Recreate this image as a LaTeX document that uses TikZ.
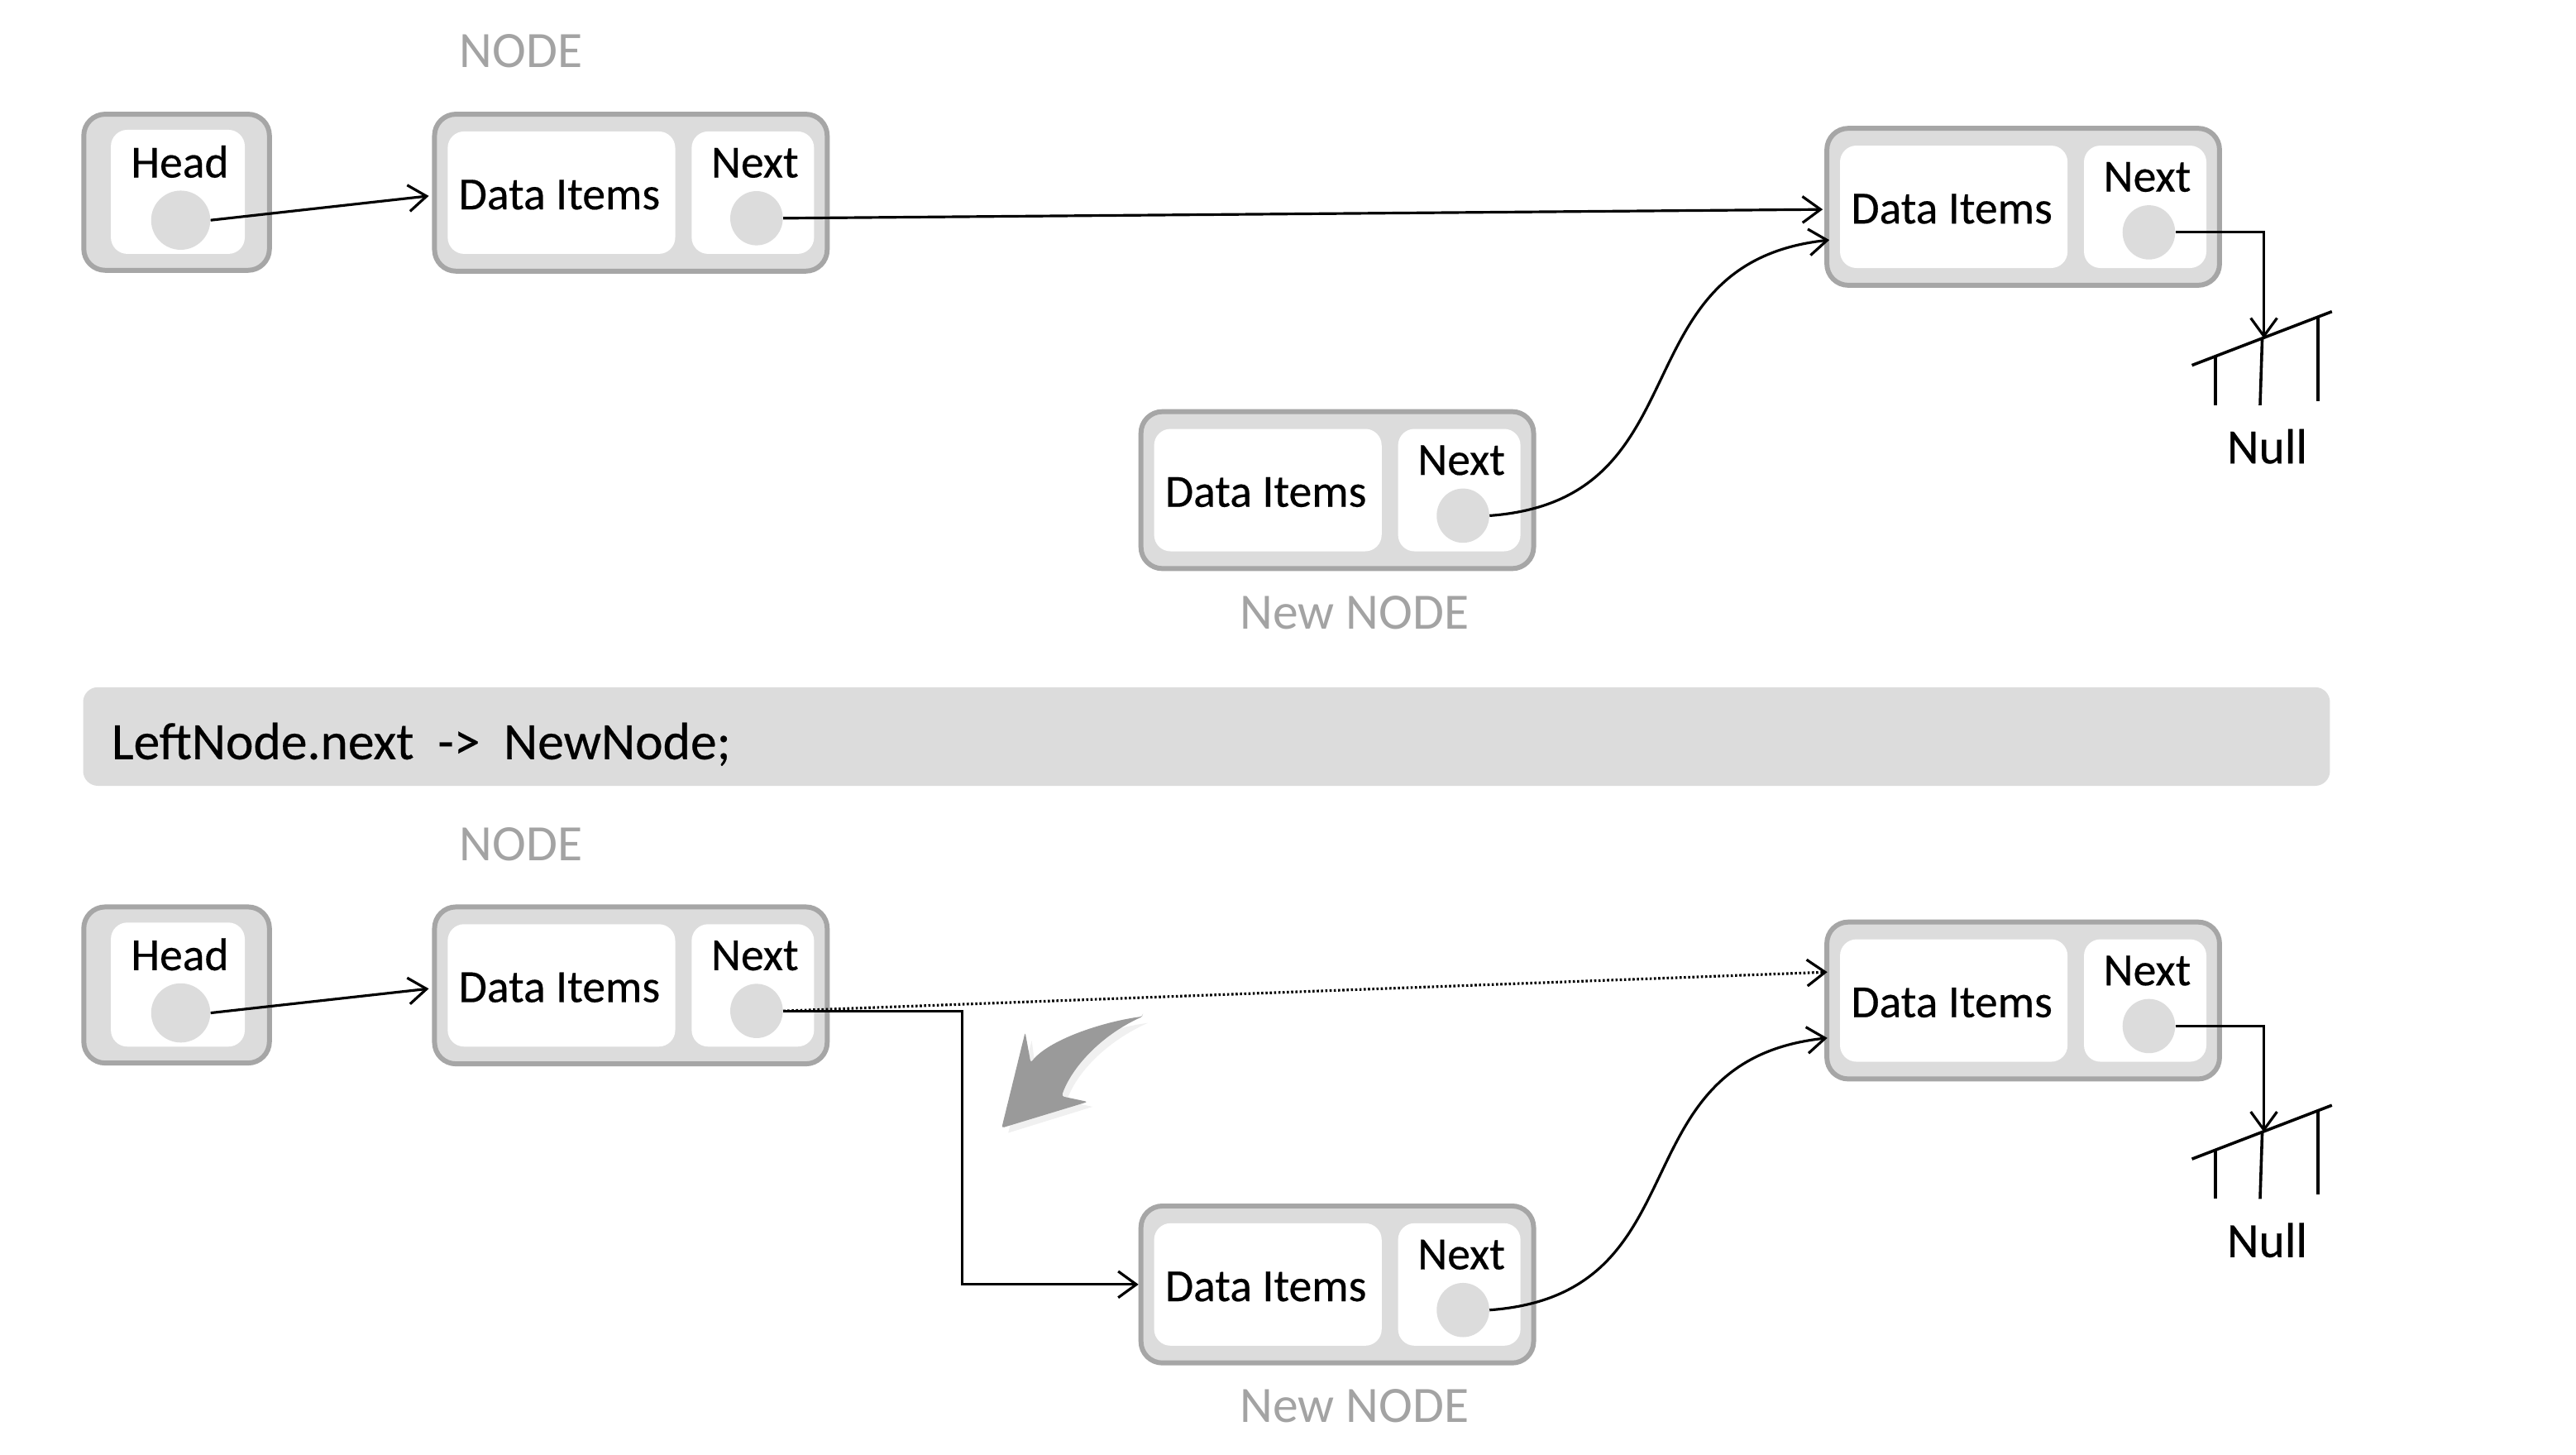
\documentclass[tikz,border=0pt]{standalone}
\usepackage{fontspec}
\setmainfont{Carlito}
\usetikzlibrary{arrows.meta,calc,shapes.geometric}

\definecolor{boxfill}{HTML}{DCDCDC}
\definecolor{boxedge}{HTML}{A6A6A6}
\definecolor{labelgray}{HTML}{A3A3A3}
\definecolor{arrowgray}{HTML}{9A9A9A}

\newcommand\cellsize{\fontsize{28}{34}\selectfont\addfontfeatures{FakeBold=0.35}}
\newcommand\tagsize{\fontsize{31}{37}\selectfont}
\newcommand\codesize{\fontsize{32}{38}\selectfont\addfontfeatures{FakeBold=0.35}}
\newcommand\nullsize{\fontsize{30}{36}\selectfont\addfontfeatures{FakeBold=0.35}}

\tikzset{
  outerbox/.style={draw=boxedge, fill=boxfill, line width=3pt, rounded corners=13pt, inner sep=0pt},
  cellbox/.style={fill=white, rounded corners=10pt, inner sep=0pt},
  celltext/.style={anchor=base, inner sep=0pt, font=\cellsize},
  pointer/.style={ellipse, fill=boxfill, minimum width=32pt, minimum height=33pt, inner sep=0pt},
  headptr/.style={circle, fill=boxfill, minimum size=36pt, inner sep=0pt},
  link/.style={line width=1.6pt, -{Straight Barb[length=11pt,width=16pt,line width=1.6pt]}},
  dotlink/.style={link, dash pattern=on 1.3pt off 1.3pt},
  groundline/.style={line width=1.8pt},
  tag/.style={anchor=base, inner sep=0pt, text=labelgray, font=\tagsize},
  nulltext/.style={anchor=base, inner sep=0pt, font=\nullsize},
  codebar/.style={fill=boxfill, rounded corners=9pt, inner sep=0pt},
}

% one list element: outer frame, data cell, next cell and its pointer dot
\newcommand\listnode[3]{%
  \begin{scope}[shift={(#2,#3)}]
    \node[outerbox, minimum width=239pt, minimum height=95.5pt] (#1) at (121,49.25) {};
    \node[cellbox, minimum width=138.5pt, minimum height=74.5pt] (#1-data) at (78.75,49.25) {};
    \node[cellbox, minimum width=74.5pt, minimum height=74.5pt] (#1-next) at (195.25,49.25) {};
    \node[celltext] (#1-dt) at (77.5,59.4) {Data Items};
    \node[celltext] (#1-nt) at (196.5,40) {Next};
    \node[pointer] (#1-ptr) at (197.5,64.8) {};
  \end{scope}}

% the head reference
\newcommand\headnode[3]{%
  \begin{scope}[shift={(#2,#3)}]
    \node[outerbox, minimum width=113pt, minimum height=95pt] (#1) at (58,49) {};
    \node[cellbox, minimum width=81.5pt, minimum height=75.5pt] (#1-cell) at (58.75,48.75) {};
    \node[celltext] (#1-txt) at (60,40) {Head};
    \node[headptr] (#1-ptr) at (60.5,66) {};
  \end{scope}}

% ground symbol standing for Null
\newcommand\groundsym[2]{%
  \begin{scope}[shift={(0,#2)}]
    \coordinate (#1) at (1378,205.9);
    \draw[groundline] (1334.2,222.3) -- (1419.4,189.6);
    \draw[groundline] (1348.4,217) -- (1348.4,246.6);
    \draw[groundline] (1377,206) -- (1375.7,246.6);
    \draw[groundline] (1411,193) -- (1411,244);
    \node[nulltext] (#1-txt) at (1380,282) {Null};
  \end{scope}}

\begin{document}
\begin{tikzpicture}[x=1pt,y=-1pt]
\useasboundingbox (0,0) rectangle (1568,885);
\fill[white] (0,0) rectangle (1568,885);

% ---------- before the insertion ----------
\node[tag] (lblA) at (317.1,41.1) {NODE};
\headnode{hA}{49.5}{68}
\listnode{leftA}{263}{68}
\listnode{rightA}{1110.5}{76.6}
\listnode{newA}{693}{249}
\node[tag] (lblnewA) at (824.4,382.6) {New NODE};
\groundsym{gndA}{0}

\draw[link] (hA-ptr.east) -- ($(leftA.west)+(-2,2)$);
\draw[link] (leftA-ptr.east) -- ($(rightA.west)+(-1,1.6)$);
\draw[link] (newA-ptr.east) .. controls +(132,-9.6) and +(-130,14) .. ($(rightA.west)+(3,20.2)$);
\draw[link] (rightA-ptr.east) -| (gndA);

% ---------- the statement ----------
\node[codebar, minimum width=1367.6pt, minimum height=60pt, anchor=north west] (bar) at (50.4,418) {};
\node[anchor=base west, inner sep=0pt, font=\codesize] (code) at (67.7,462) {LeftNode.next\ \ ->\ \ NewNode;};

% ---------- after the insertion ----------
\node[tag] (lblB) at (317.1,523.6) {NODE};
\headnode{hB}{49.5}{550.4}
\listnode{leftB}{263}{550.4}
\listnode{rightB}{1110.5}{559.6}
\listnode{newB}{693}{732.4}
\node[tag] (lblnewB) at (824.4,865.6) {New NODE};
\groundsym{gndB}{483}

\draw[link] (hB-ptr.east) -- ($(leftB.west)+(-2,2)$);
\draw[dotlink] (leftB-ptr.east) -- ($(rightB.west)+(1.8,-17.3)$);
\draw[link] (leftB-ptr.east) -- ++(109,0) |- (newB.west);
\draw[link] (newB-ptr.east) .. controls +(132,-9.6) and +(-130,14) .. ($(rightB.west)+(1.8,22.8)$);
\draw[link] (rightB-ptr.east) -| (gndB);

% curved hint arrow with a faint shadow
\fill[black, opacity=0.06] (698.7,622.5) .. controls (673,626) and (641,637) .. (630.4,650.7) -- (628,633.2) -- (613.7,689.4) -- (665.1,673.5) -- (649.2,670.1) .. controls (655,653) and (673,634) .. cycle;
\fill[arrowgray, rounded corners=1.5pt] (695.7,618.5) .. controls (670,622) and (638,633) .. (627.4,646.7) -- (624,628.2) -- (609.7,686.4) -- (662.1,670.5) -- (646.2,667.1) .. controls (652,650) and (670,630) .. cycle;
\end{tikzpicture}
\end{document}
